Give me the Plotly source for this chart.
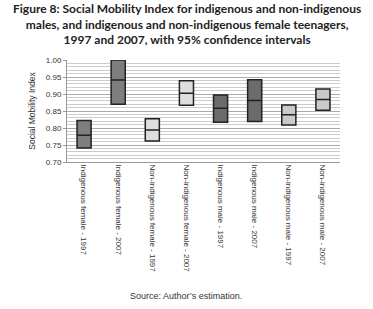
import plotly.graph_objects as go

categories = ["Indigenous female - 1997", "Indigenous female - 2007",
              "Non-indigenous female - 1997", "Non-indigenous female - 2007",
              "Indigenous male - 1997", "Indigenous male - 2007",
              "Non-indigenous male - 1997", "Non-indigenous male - 2007"]
lower = [0.741, 0.870, 0.762, 0.867, 0.817, 0.819, 0.809, 0.852]
estimate = [0.779, 0.941, 0.794, 0.902, 0.858, 0.881, 0.839, 0.884]
upper = [0.822, 1.000, 0.827, 0.939, 0.897, 0.942, 0.868, 0.915]
groups = ["if", "if", "nf", "nf", "im", "im", "nm", "nm"]
group_colors = {"if": "#7e7e7e", "nf": "#dedede", "im": "#6c6c6c", "nm": "#cacaca"}
title_lines = ["Figure 8: Social Mobility Index for indigenous and non-indigenous",
               "males, and indigenous and non-indigenous female teenagers,",
               "1997 and 2007, with 95% confidence intervals"]
source_text = "Source: Author\u2019s estimation."

fig = go.Figure()
for g, col in group_colors.items():
    idx = [i for i, gg in enumerate(groups) if gg == g]
    fig.add_trace(go.Box(
        x=[categories[i] for i in idx],
        q1=[lower[i] for i in idx],
        median=[estimate[i] for i in idx],
        q3=[upper[i] for i in idx],
        lowerfence=[lower[i] for i in idx],
        upperfence=[upper[i] for i in idx],
        fillcolor=col,
        line=dict(color="#222222", width=1.5),
        whiskerwidth=0,
        hoverinfo="skip",
        showlegend=False,
    ))

fig.update_layout(
    width=373, height=309,
    margin=dict(l=67, r=33, t=60, b=147),
    paper_bgcolor="white", plot_bgcolor="white",
    boxmode="overlay", boxgap=0.41,
    font=dict(family="Liberation Sans, Arial, sans-serif", color="#333333"),
    annotations=[
        dict(text="<b>" + "<br>".join(title_lines) + "</b>",
             xref="paper", yref="paper", x=0.439, y=1.355,
             xanchor="center", yanchor="middle", showarrow=False,
             font=dict(size=12, color="#222222", family="Lato, sans-serif")),
        dict(text=source_text, xref="paper", yref="paper",
             x=0.436, y=-1.31, xanchor="center", yanchor="middle", showarrow=False,
             font=dict(size=9, color="#333333")),
    ],
)
fig.update_xaxes(
    categoryorder="array", categoryarray=categories,
    tickangle=90, tickfont=dict(size=8, color="#333333"),
    showline=True, linecolor="#999999", linewidth=1,
    showgrid=False, ticks="",
)
fig.update_yaxes(
    range=[0.70, 1.00], dtick=0.05, tickformat=".2f",
    tickfont=dict(size=8, color="#333333"),
    title=dict(text="Social Mobility Index", font=dict(size=8.5, color="#333333"), standoff=8),
    showline=True, linecolor="#999999", linewidth=1,
    ticks="outside", ticklen=3, tickcolor="#999999",
    showgrid=True, gridcolor="#aaaaaa", gridwidth=1,
    minor=dict(dtick=0.01, showgrid=True, gridcolor="#cccccc", gridwidth=1),
    zeroline=False,
)
fig.write_html("out.html", config={"displayModeBar": False},
               post_script="document.body.style.margin='0';")
